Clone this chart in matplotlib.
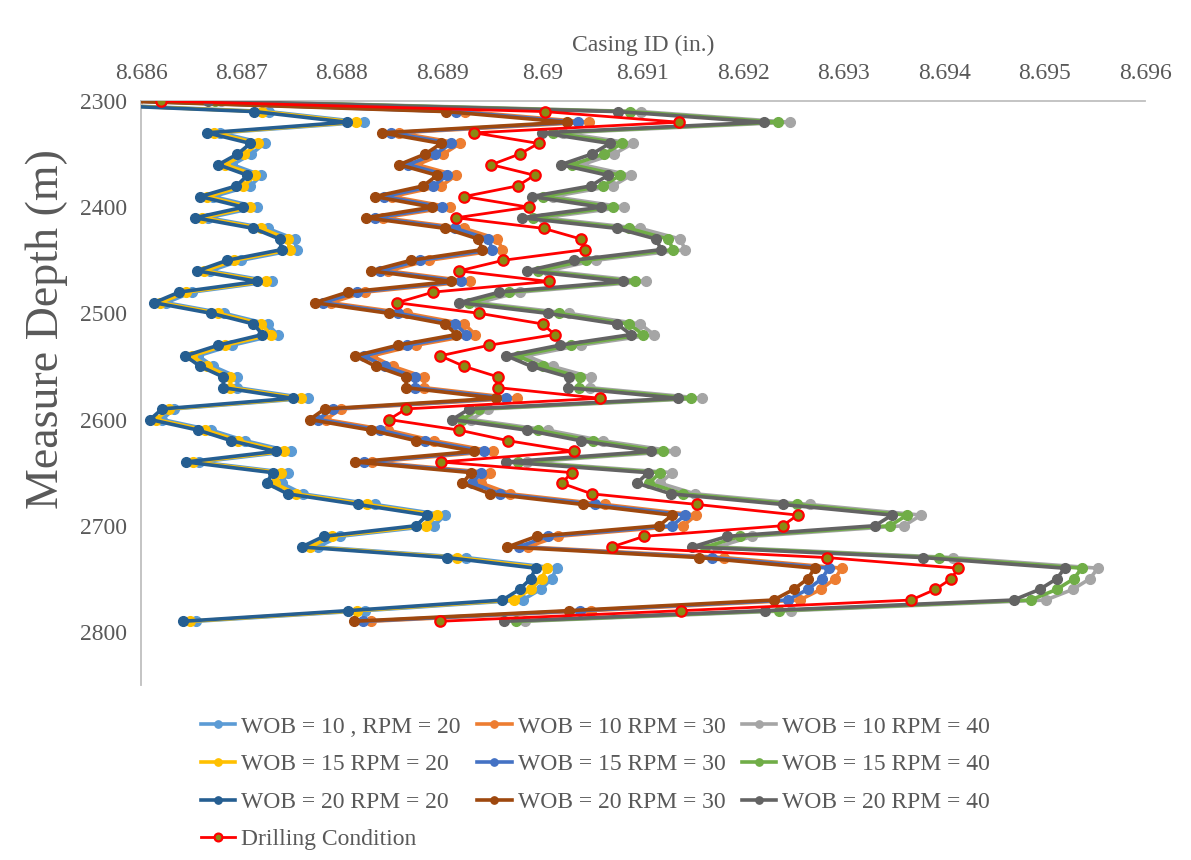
import matplotlib
matplotlib.use("Agg")
import matplotlib.pyplot as plt

depth = [2300, 2310, 2320, 2330, 2340, 2350, 2360, 2370, 2380, 2390,
         2400, 2410, 2420, 2430, 2440, 2450, 2460, 2470, 2480, 2490,
         2500, 2510, 2520, 2530, 2540, 2550, 2560, 2570, 2580, 2590,
         2600, 2610, 2620, 2630, 2640, 2650, 2660, 2670, 2680, 2690,
         2700, 2710, 2720, 2730, 2740, 2750, 2760, 2770, 2780, 2790]

wob10_rpm20 = [8.68472, 8.68727, 8.68822, 8.68679, 8.68723, 8.68710, 8.68691, 8.68720, 8.68709, 8.68672,
               8.68716, 8.68667, 8.68726, 8.68753, 8.68755, 8.68700, 8.68669, 8.68730, 8.68651, 8.68625,
               8.68683, 8.68726, 8.68736, 8.68691, 8.68657, 8.68672, 8.68696, 8.68696, 8.68766, 8.68633,
               8.68621, 8.68670, 8.68704, 8.68749, 8.68658, 8.68746, 8.68740, 8.68761, 8.68833, 8.68903,
               8.68892, 8.68798, 8.68776, 8.68924, 8.69014, 8.69009, 8.68998, 8.68980, 8.68823, 8.68655]
wob10_rpm30 = [8.68596, 8.68923, 8.69046, 8.68857, 8.68918, 8.68901, 8.68875, 8.68914, 8.68899, 8.68850,
               8.68908, 8.68841, 8.68922, 8.68955, 8.68960, 8.68887, 8.68846, 8.68928, 8.68823, 8.68789,
               8.68865, 8.68922, 8.68933, 8.68874, 8.68830, 8.68851, 8.68882, 8.68882, 8.68974, 8.68799,
               8.68784, 8.68846, 8.68892, 8.68951, 8.68830, 8.68948, 8.68939, 8.68968, 8.69062, 8.69153,
               8.69140, 8.69015, 8.68985, 8.69181, 8.69298, 8.69291, 8.69277, 8.69256, 8.69048, 8.68829]
wob10_rpm40 = [8.68680, 8.69098, 8.69246, 8.69020, 8.69090, 8.69071, 8.69039, 8.69088, 8.69070, 8.69010,
               8.69081, 8.69000, 8.69097, 8.69137, 8.69142, 8.69053, 8.69005, 8.69103, 8.68977, 8.68936,
               8.69026, 8.69097, 8.69111, 8.69038, 8.68984, 8.69010, 8.69048, 8.69047, 8.69159, 8.68946,
               8.68929, 8.69005, 8.69060, 8.69132, 8.68984, 8.69129, 8.69117, 8.69152, 8.69266, 8.69377,
               8.69360, 8.69209, 8.69174, 8.69409, 8.69553, 8.69545, 8.69528, 8.69501, 8.69247, 8.68982]
wob15_rpm20 = [8.68466, 8.68721, 8.68814, 8.68673, 8.68717, 8.68703, 8.68684, 8.68714, 8.68702, 8.68666,
               8.68709, 8.68661, 8.68720, 8.68746, 8.68748, 8.68693, 8.68663, 8.68724, 8.68645, 8.68619,
               8.68677, 8.68720, 8.68729, 8.68684, 8.68651, 8.68666, 8.68689, 8.68689, 8.68759, 8.68628,
               8.68615, 8.68664, 8.68697, 8.68742, 8.68652, 8.68739, 8.68733, 8.68754, 8.68825, 8.68895,
               8.68884, 8.68790, 8.68768, 8.68915, 8.69004, 8.68999, 8.68988, 8.68971, 8.68815, 8.68649]
wob15_rpm30 = [8.68588, 8.68914, 8.69035, 8.68849, 8.68909, 8.68893, 8.68866, 8.68905, 8.68891, 8.68842,
               8.68900, 8.68833, 8.68913, 8.68946, 8.68950, 8.68878, 8.68838, 8.68919, 8.68815, 8.68781,
               8.68856, 8.68913, 8.68924, 8.68865, 8.68822, 8.68843, 8.68873, 8.68873, 8.68964, 8.68791,
               8.68776, 8.68838, 8.68883, 8.68942, 8.68822, 8.68939, 8.68930, 8.68958, 8.69052, 8.69142,
               8.69129, 8.69005, 8.68976, 8.69169, 8.69285, 8.69278, 8.69264, 8.69244, 8.69037, 8.68821]
wob15_rpm40 = [8.68674, 8.69087, 8.69234, 8.69010, 8.69079, 8.69061, 8.69029, 8.69077, 8.69060, 8.69000,
               8.69070, 8.68990, 8.69086, 8.69125, 8.69130, 8.69043, 8.68995, 8.69092, 8.68967, 8.68927,
               8.69016, 8.69086, 8.69100, 8.69028, 8.68975, 8.69000, 8.69037, 8.69036, 8.69148, 8.68937,
               8.68920, 8.68995, 8.69050, 8.69120, 8.68975, 8.69117, 8.69106, 8.69140, 8.69253, 8.69363,
               8.69346, 8.69197, 8.69162, 8.69395, 8.69537, 8.69529, 8.69512, 8.69486, 8.69235, 8.68973]
wob20_rpm20 = [8.68460, 8.68713, 8.68805, 8.68666, 8.68709, 8.68696, 8.68677, 8.68706, 8.68695, 8.68659,
               8.68702, 8.68654, 8.68712, 8.68738, 8.68740, 8.68686, 8.68656, 8.68716, 8.68638, 8.68613,
               8.68670, 8.68712, 8.68721, 8.68677, 8.68644, 8.68659, 8.68682, 8.68682, 8.68751, 8.68621,
               8.68609, 8.68657, 8.68690, 8.68734, 8.68645, 8.68731, 8.68725, 8.68746, 8.68816, 8.68885,
               8.68874, 8.68782, 8.68760, 8.68905, 8.68993, 8.68988, 8.68977, 8.68960, 8.68806, 8.68642]
wob20_rpm30 = [8.68580, 8.68904, 8.69024, 8.68840, 8.68899, 8.68883, 8.68857, 8.68895, 8.68881, 8.68833,
               8.68890, 8.68824, 8.68903, 8.68936, 8.68940, 8.68869, 8.68829, 8.68909, 8.68806, 8.68773,
               8.68847, 8.68903, 8.68914, 8.68856, 8.68813, 8.68834, 8.68864, 8.68864, 8.68954, 8.68783,
               8.68768, 8.68829, 8.68874, 8.68932, 8.68813, 8.68929, 8.68920, 8.68948, 8.69040, 8.69129,
               8.69116, 8.68994, 8.68965, 8.69156, 8.69271, 8.69264, 8.69250, 8.69230, 8.69026, 8.68812]
wob20_rpm40 = [8.68667, 8.69075, 8.69220, 8.68999, 8.69067, 8.69049, 8.69018, 8.69065, 8.69048, 8.68989,
               8.69058, 8.68979, 8.69074, 8.69113, 8.69118, 8.69031, 8.68984, 8.69080, 8.68957, 8.68917,
               8.69005, 8.69074, 8.69088, 8.69017, 8.68964, 8.68989, 8.69026, 8.69025, 8.69135, 8.68927,
               8.68910, 8.68984, 8.69038, 8.69108, 8.68964, 8.69105, 8.69094, 8.69128, 8.69239, 8.69348,
               8.69331, 8.69184, 8.69149, 8.69379, 8.69520, 8.69512, 8.69495, 8.69469, 8.69221, 8.68962]
drilling = [8.68620, 8.69002, 8.69136, 8.68932, 8.68996, 8.68977, 8.68949, 8.68992, 8.68975, 8.68922,
            8.68986, 8.68914, 8.69001, 8.69038, 8.69042, 8.68961, 8.68917, 8.69006, 8.68891, 8.68855,
            8.68937, 8.69000, 8.69012, 8.68947, 8.68898, 8.68922, 8.68956, 8.68956, 8.69057, 8.68864,
            8.68847, 8.68917, 8.68966, 8.69031, 8.68899, 8.69029, 8.69019, 8.69049, 8.69154, 8.69254,
            8.69239, 8.69101, 8.69069, 8.69283, 8.69414, 8.69407, 8.69391, 8.69367, 8.69138, 8.68898]

x_ticks = [8.686, 8.687, 8.688, 8.689, 8.69, 8.691, 8.692, 8.693, 8.694, 8.695, 8.696]
x_tick_labels = ["8.686", "8.687", "8.688", "8.689", "8.69", "8.691", "8.692",
                 "8.693", "8.694", "8.695", "8.696"]
y_ticks = [2300, 2400, 2500, 2600, 2700, 2800]

series = [
    ("WOB = 10 , RPM = 20", wob10_rpm20, "#5B9BD5"),
    ("WOB = 10 RPM = 30", wob10_rpm30, "#ED7D31"),
    ("WOB = 10 RPM = 40", wob10_rpm40, "#A5A5A5"),
    ("WOB = 15 RPM = 20", wob15_rpm20, "#FFC000"),
    ("WOB = 15 RPM = 30", wob15_rpm30, "#4472C4"),
    ("WOB = 15 RPM = 40", wob15_rpm40, "#70AD47"),
    ("WOB = 20 RPM = 20", wob20_rpm20, "#255E91"),
    ("WOB = 20 RPM = 30", wob20_rpm30, "#9E480E"),
    ("WOB = 20 RPM = 40", wob20_rpm40, "#636363"),
]

plt.rcParams['font.family'] = ['Liberation Serif', 'DejaVu Serif']
txt = "#595959"

fig = plt.figure(figsize=(11.91, 8.60), dpi=100)
ax = fig.add_axes([0.1184, 0.2035, 0.9614 - 0.1184, 0.8826 - 0.2035])

handles = {}
for i, (name, vals, col) in enumerate(series):
    h, = ax.plot(vals, depth, color=col, lw=2.6, marker='o', markersize=7.0,
                 markerfacecolor=col, markeredgecolor=col, zorder=2 + i * 0.1,
                 solid_joinstyle='round', label=name)
    handles[name] = h
hd, = ax.plot(drilling, depth, color="#FF0000", lw=2.0, marker='o', markersize=7.5,
              markerfacecolor="#8A8A14", markeredgecolor="#FF0000", markeredgewidth=1.6,
              zorder=3.5, label="Drilling Condition")
handles["Drilling Condition"] = hd

ax.set_xlim(8.686, 8.696)
ax.set_ylim(2850, 2300)
ax.xaxis.tick_top()
ax.xaxis.set_label_position('top')
ax.set_xticks(x_ticks)
ax.set_xticklabels(x_tick_labels)
ax.set_yticks(y_ticks)
ax.tick_params(axis='both', length=0, labelsize=17, colors=txt)
ax.tick_params(axis='x', pad=12)
ax.tick_params(axis='y', pad=10)
ax.set_xlabel("Casing ID (in.)", fontsize=17, color=txt, labelpad=9)
ax.set_ylabel("Measure Depth (m)", fontsize=33, color=txt)
ax.yaxis.set_label_coords(-0.073, 0.61)

for s in ['right', 'bottom']:
    ax.spines[s].set_visible(False)
for s in ['top', 'left']:
    ax.spines[s].set_color("#BFBFBF")
    ax.spines[s].set_linewidth(1.3)

order = ["WOB = 10 , RPM = 20", "WOB = 15 RPM = 20", "WOB = 20 RPM = 20", "Drilling Condition",
         "WOB = 10 RPM = 30", "WOB = 15 RPM = 30", "WOB = 20 RPM = 30",
         "WOB = 10 RPM = 40", "WOB = 15 RPM = 40", "WOB = 20 RPM = 40"]
leg = fig.legend([handles[k] for k in order], order, ncol=3, loc='upper center',
                 bbox_to_anchor=(0.5, 0.192), frameon=False, fontsize=17,
                 handlelength=1.45, handletextpad=0.25, columnspacing=0.7,
                 labelspacing=0.68, markerscale=0.75)
for t in leg.get_texts():
    t.set_color(txt)

fig.savefig("out.png", dpi=100)
